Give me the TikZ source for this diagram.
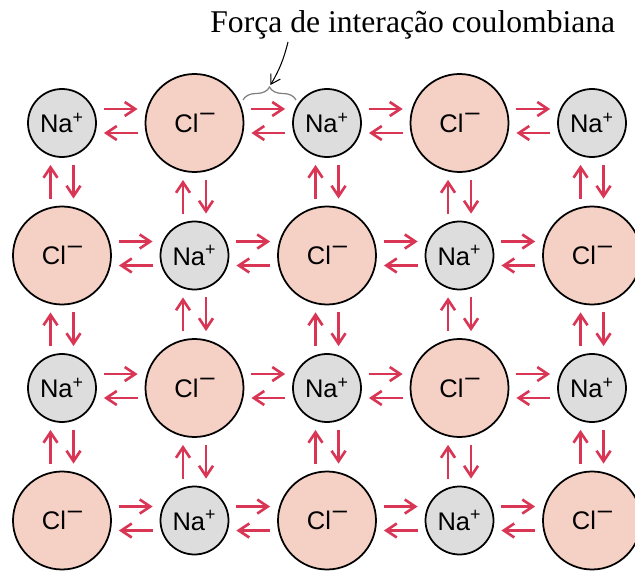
\documentclass[tikz,border=0pt]{standalone}
\usepackage{fontspec}
\setmainfont{Liberation Serif}
\setsansfont{Liberation Sans}
\usepackage{tikz}
\usetikzlibrary{shapes,arrows,arrows.meta}
\usetikzlibrary{decorations.pathreplacing}
\definecolor{nafill}{RGB}{221,221,221}
\definecolor{clfill}{RGB}{245,208,196}
\definecolor{force}{RGB}{217,54,86}
\tikzstyle{ion} = [circle, draw=black, line width=1pt, inner sep=0pt, font=\sffamily\fontsize{14.5}{16}\selectfont]
\tikzstyle{sodium} = [ion, fill=nafill, minimum size=1.36cm]
\tikzstyle{chlorine} = [ion, fill=clfill, minimum size=1.96cm]
\tikzstyle{attract} = [draw=force, line width=1.5pt, -{Straight Barb[length=2.1mm,width=2.8mm]}, shorten >=0.14cm, shorten <=0.14cm]
\newcommand{\Na}{Na\textsuperscript{+}}
\newcommand{\Cl}{Cl\kern0.08em\raisebox{0.85ex}{–}}

\begin{document}
\begin{tikzpicture}
\useasboundingbox (-1.24, 2.46) rectangle (11.46, -8.94);

%% row 1
\node[sodium]   (ion11) at (0, 0) {\Na};
\node[chlorine] (ion12) at (2.65, 0) {\Cl};
\node[sodium]   (ion13) at (5.3, 0) {\Na};
\node[chlorine] (ion14) at (7.95, 0) {\Cl};
\node[sodium]   (ion15) at (10.6, 0) {\Na};

%% row 2
\node[chlorine] (ion21) at (0, -2.65) {\Cl};
\node[sodium]   (ion22) at (2.65, -2.65) {\Na};
\node[chlorine] (ion23) at (5.3, -2.65) {\Cl};
\node[sodium]   (ion24) at (7.95, -2.65) {\Na};
\node[chlorine] (ion25) at (10.6, -2.65) {\Cl};

%% row 3
\node[sodium]   (ion31) at (0, -5.3) {\Na};
\node[chlorine] (ion32) at (2.65, -5.3) {\Cl};
\node[sodium]   (ion33) at (5.3, -5.3) {\Na};
\node[chlorine] (ion34) at (7.95, -5.3) {\Cl};
\node[sodium]   (ion35) at (10.6, -5.3) {\Na};

%% row 4
\node[chlorine] (ion41) at (0, -7.95) {\Cl};
\node[sodium]   (ion42) at (2.65, -7.95) {\Na};
\node[chlorine] (ion43) at (5.3, -7.95) {\Cl};
\node[sodium]   (ion44) at (7.95, -7.95) {\Na};
\node[chlorine] (ion45) at (10.6, -7.95) {\Cl};

%% forces along the rows
\foreach \r in {1,...,4} {
  \foreach \c [evaluate=\c as \n using int(\c+1)] in {1,...,4} {
    \draw[attract] ([yshift=0.28cm]ion\r\c.east) -- ([yshift=0.28cm]ion\r\n.west);
    \draw[attract] ([yshift=-0.2cm]ion\r\n.west) -- ([yshift=-0.2cm]ion\r\c.east);
  }
}

%% forces along the columns
\foreach \r [evaluate=\r as \n using int(\r+1)] in {1,...,3} {
  \foreach \c in {1,...,5} {
    \draw[attract] ([xshift=-0.23cm]ion\n\c.north) -- ([xshift=-0.23cm]ion\r\c.south);
    \draw[attract] ([xshift=0.23cm]ion\r\c.south) -- ([xshift=0.23cm]ion\n\c.north);
  }
}

%% label
\node[anchor=base west, inner sep=0pt, font=\fontsize{18}{21}\selectfont] (title) at (2.96, 1.8) {Força de interação coulombiana};
\coordinate (braceL) at (3.62, 0.46);
\coordinate (braceR) at (4.68, 0.46);
\coordinate (bracetip) at (4.17, 0.76);
\coordinate (pointer) at (4.52, 1.62);
\draw[gray, line width=0.7pt, decorate, decoration={brace, amplitude=0.26cm}] (braceL) -- (braceR);
\draw[line width=0.6pt, -{Straight Barb[length=1.8mm,width=2.2mm]}] (pointer) to[bend left=8] (bracetip);
\end{tikzpicture}
\end{document}
